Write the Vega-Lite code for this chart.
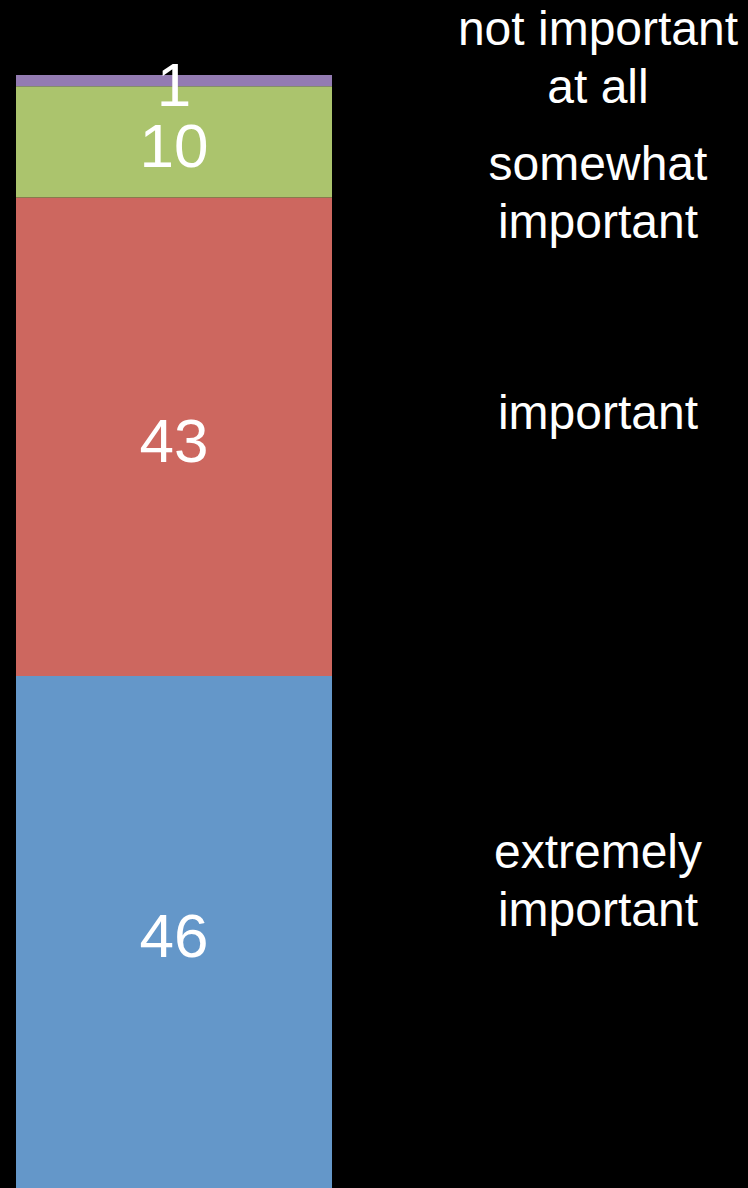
{
  "$schema": "https://vega.github.io/schema/vega-lite/v6.json",
  "width": 748,
  "height": 1113,
  "autosize": {"type": "none"},
  "padding": {"top": 75, "left": 0, "right": 0, "bottom": 0},
  "background": "#000000",
  "config": {"view": {"stroke": null}, "font": "Liberation Sans"},
  "data": {
    "values": [
      {"answer": "extremely important", "label": "extremely\nimportant", "pct": 46, "rank": 1},
      {"answer": "important", "label": "important", "pct": 43, "rank": 2},
      {"answer": "somewhat important", "label": "somewhat\nimportant", "pct": 10, "rank": 3},
      {"answer": "not important at all", "label": "not important\nat all", "pct": 1, "rank": 4}
    ]
  },
  "transform": [
    {"stack": "pct", "groupby": [], "sort": [{"field": "rank", "order": "ascending"}], "as": ["y0", "y1"]}
  ],
  "layer": [
    {
      "mark": {"type": "bar", "cornerRadius": 0},
      "encoding": {
        "x": {"datum": "bar", "type": "nominal", "scale": {"domain": ["bar", "labels"], "range": [16, 756], "paddingInner": 0.2547, "paddingOuter": 0}, "axis": null},
        "y": {"field": "y1", "type": "quantitative", "scale": {"domain": [0, 100], "nice": false, "zero": true}, "axis": null},
        "y2": {"field": "y0"},
        "color": {
          "field": "answer",
          "type": "nominal",
          "scale": {
            "domain": ["extremely important", "important", "somewhat important", "not important at all"],
            "range": ["#6497c9", "#cd675f", "#abc46d", "#937bb2"]
          },
          "legend": null
        }
      }
    },
    {
      "mark": {"type": "text", "color": "#ffffff", "fontSize": 62, "baseline": "middle", "align": "center", "dy": 6},
      "encoding": {
        "x": {"datum": "bar", "type": "nominal"},
        "y": {"field": "pct", "type": "quantitative", "stack": "zero", "bandPosition": 0.5},
        "order": {"field": "rank", "type": "quantitative"},
        "detail": {"field": "answer"},
        "text": {"field": "pct", "type": "quantitative"}
      }
    },
    {
      "transform": [{"filter": "datum.rank == 4"}],
      "mark": {"type": "text", "color": "#ffffff", "fontSize": 48, "lineHeight": 58, "lineBreak": "\n", "baseline": "middle", "align": "center", "dy": -44},
      "encoding": {
        "x": {"datum": "labels", "type": "nominal"},
        "y": {"field": "y1", "type": "quantitative"},
        "text": {"field": "label"}
      }
    },
    {
      "transform": [{"filter": "datum.rank == 3"}],
      "mark": {"type": "text", "color": "#ffffff", "fontSize": 48, "lineHeight": 58, "lineBreak": "\n", "baseline": "middle", "align": "center", "dy": 80},
      "encoding": {
        "x": {"datum": "labels", "type": "nominal"},
        "y": {"field": "y1", "type": "quantitative"},
        "text": {"field": "label"}
      }
    },
    {
      "transform": [{"filter": "datum.rank == 2"}],
      "mark": {"type": "text", "color": "#ffffff", "fontSize": 48, "lineHeight": 58, "lineBreak": "\n", "baseline": "middle", "align": "center", "dy": 218},
      "encoding": {
        "x": {"datum": "labels", "type": "nominal"},
        "y": {"field": "y1", "type": "quantitative"},
        "text": {"field": "label"}
      }
    },
    {
      "transform": [{"filter": "datum.rank == 1"}],
      "mark": {"type": "text", "color": "#ffffff", "fontSize": 48, "lineHeight": 58, "lineBreak": "\n", "baseline": "middle", "align": "center", "dy": 178},
      "encoding": {
        "x": {"datum": "labels", "type": "nominal"},
        "y": {"field": "y1", "type": "quantitative"},
        "text": {"field": "label"}
      }
    }
  ]
}
